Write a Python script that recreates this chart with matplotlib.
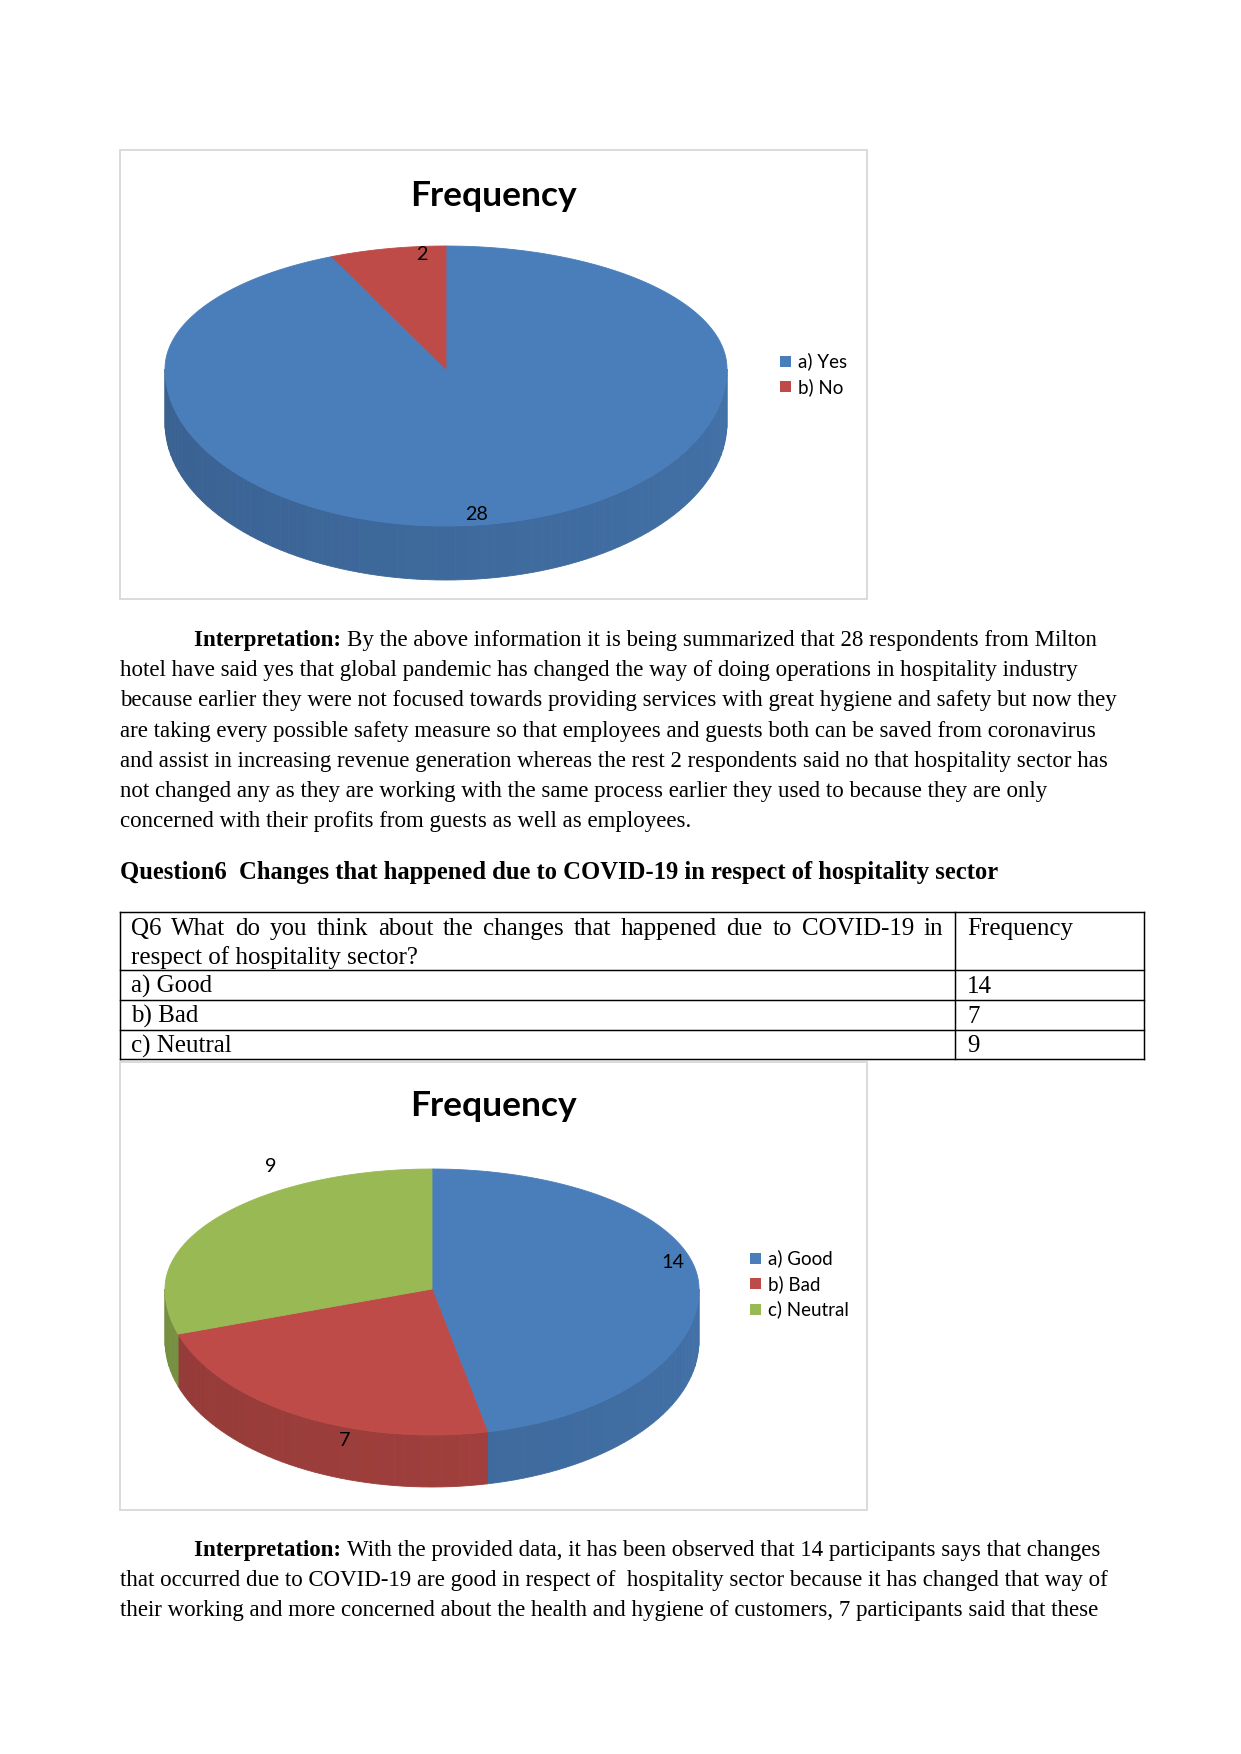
import numpy as np
import matplotlib
matplotlib.use("Agg")
import matplotlib.pyplot as plt
from matplotlib.patches import Polygon, Rectangle
from matplotlib.colors import to_rgb

# ---------------- data ----------------
q5_labels = ["a) Yes", "b) No"]
q5_values = [28, 2]
q6_labels = ["a) Good", "b) Bad", "c) Neutral"]
q6_values = [14, 7, 9]
chart_title = "Frequency"

para1 = [
    "By the above information it is being summarized that 28 respondents from Milton",
    "hotel have said yes that global pandemic has changed the way of doing operations in hospitality industry",
    "because earlier they were not focused towards providing services with great hygiene and safety but now they",
    "are taking every possible safety measure so that employees and guests both can be saved from coronavirus",
    "and assist in increasing revenue generation whereas the rest 2 respondents said no that hospitality sector has",
    "not changed any as they are working with the same process earlier they used to because they are only",
    "concerned with their profits from guests as well as employees.",
]
heading = "Question6  Changes that happened due to COVID-19 in respect of hospitality sector"
table_q = ["Q6 What do you think about the changes that happened due to COVID-19 in",
           "respect of hospitality sector?"]
table_col2 = "Frequency"
para2 = [
    "With the provided data, it has been observed that 14 participants says that changes",
    "that occurred due to COVID-19 are good in respect of  hospitality sector because it has changed that way of",
    "their working and more concerned about the health and hygiene of customers, 7 participants said that these",
]

colors = ["#4A7EBB", "#BE4B48", "#98B954"]

# ---------------- figure ----------------
W, H = 1241, 1754
DPI = 150
fig = plt.figure(figsize=(W / DPI, H / DPI), dpi=DPI)
fig.patch.set_facecolor("white")
ax = fig.add_axes([0, 0, 1, 1])
ax.set_xlim(0, W)
ax.set_ylim(H, 0)
ax.axis("off")
renderer = fig.canvas.get_renderer()

SERIF = "Liberation Serif"
SANS = ["Lato", "DejaVu Sans"]
PARA_FS = 11
TAB_FS = 12


def shade(c, f):
    r, g, b = to_rgb(c)
    return (r * f, g * f, b * f)


def ell(th_deg, cx, cy, rx, ryb, ryf):
    th = np.radians(th_deg)
    c = np.cos(th)
    ry = np.where(c > 0, ryb, ryf)
    return cx + rx * np.sin(th), cy - ry * c


def pie3d(values, cols, cx, cy, rx, ryb, ryf, depth):
    total = float(sum(values))
    bounds = np.concatenate([[0], np.cumsum(values)]) / total * 360.0
    # side walls (front half only)
    for i in range(len(values)):
        lo, hi = max(bounds[i], 90), min(bounds[i + 1], 270)
        if hi <= lo:
            continue
        edges = np.arange(lo, hi, 2.0).tolist() + [hi]
        for s0, s1 in zip(edges[:-1], edges[1:]):
            xs, ys = ell(np.linspace(s0, s1, 4), cx, cy, rx, ryb, ryf)
            pts = list(zip(xs, ys)) + list(zip(xs[::-1], ys[::-1] + depth))
            mid = 0.5 * (s0 + s1)
            f = 0.90 - 0.13 * (mid - 90) / 180.0
            c = shade(cols[i], f)
            ax.add_patch(Polygon(pts, closed=True, facecolor=c, edgecolor=c, lw=0.4))
    # top faces
    for i in range(len(values)):
        xs, ys = ell(np.linspace(bounds[i], bounds[i + 1], 240), cx, cy, rx, ryb, ryf)
        pts = [(cx, cy)] + list(zip(xs, ys))
        ax.add_patch(Polygon(pts, closed=True, facecolor=cols[i], edgecolor=cols[i], lw=0.4))


def chart(box, title_y, values, labels, pie_geom, label_pos, legend_xy):
    x0, y0, x1, y1 = box
    ax.add_patch(Rectangle((x0, y0), x1 - x0, y1 - y0, fill=False,
                           edgecolor="#D9D9D9", lw=0.9))
    ax.text((x0 + x1) / 2, title_y, chart_title, family=SANS, fontweight="bold",
            fontsize=17, ha="center", va="center", color="black")
    pie3d(values, colors, *pie_geom)
    for v, (lx, ly) in zip(values, label_pos):
        ax.text(lx, ly, str(v), family=SANS, fontsize=9.5, ha="center", va="center")
    lx, ly = legend_xy
    for i, lab in enumerate(labels):
        yy = ly + i * 25.8
        ax.add_patch(Rectangle((lx, yy - 5.5), 11, 11, facecolor=colors[i], edgecolor="none"))
        ax.text(lx + 18, yy, lab, family=SANS, fontsize=9, ha="left", va="center")


def text_width(s, **kw):
    t = ax.text(0, 0, s, **kw)
    w = t.get_window_extent(renderer).width
    t.remove()
    return w


def para(lines, x_left, x_indent, y0, dy, lead="Interpretation: "):
    for i, line in enumerate(lines):
        y = y0 + i * dy
        if i == 0:
            ax.text(x_indent, y, lead, family=SERIF, fontsize=PARA_FS, fontweight="bold", va="baseline")
            w = text_width(lead, family=SERIF, fontsize=PARA_FS, fontweight="bold")
            ax.text(x_indent + w, y, line, family=SERIF, fontsize=PARA_FS, va="baseline")
        else:
            ax.text(x_left, y, line, family=SERIF, fontsize=PARA_FS, va="baseline")


def justify(line, x0, x1, y):
    words = line.split()
    ws = [text_width(w, family=SERIF, fontsize=TAB_FS) for w in words]
    gap = (x1 - x0 - sum(ws)) / (len(words) - 1)
    x = x0
    for w, wd in zip(words, ws):
        ax.text(x, y, w, family=SERIF, fontsize=TAB_FS, va="baseline")
        x += wd + gap


# ---- chart 1 ----
chart((120, 150, 867, 599), 196, q5_values, q5_labels,
      (446, 369, 281, 123, 157, 54), [(477, 515), (422, 255)], (780, 361))

# ---- paragraph 1 ----
para(para1, 120, 194, 646, 30.2)

# ---- heading ----
ax.text(120, 879, heading, family=SERIF, fontsize=11.8, fontweight="bold", va="baseline")

# ---- table ----
tx0, tx1, tdiv = 120, 1144, 955
ty = [912, 970, 1000, 1030, 1059]
for yy in ty:
    ax.plot([tx0, tx1], [yy, yy], color="black", lw=0.7)
for xx in (tx0, tdiv, tx1):
    ax.plot([xx, xx], [ty[0], ty[-1]], color="black", lw=0.7)
justify(table_q[0], 131, 943, 935)
ax.text(131, 964, table_q[1], family=SERIF, fontsize=TAB_FS, va="baseline")
ax.text(967, 935, table_col2, family=SERIF, fontsize=TAB_FS, va="baseline")
for i, (lab, v) in enumerate(zip(q6_labels, q6_values)):
    ax.text(131, 993 + i * 29.6, lab, family=SERIF, fontsize=TAB_FS, va="baseline")
    ax.text(967, 993 + i * 29.6, str(v), family=SERIF, fontsize=TAB_FS, va="baseline")

# ---- chart 2 ----
chart((120, 1062, 867, 1510), 1106, q6_values, q6_labels,
      (432, 1289, 267, 120, 146, 52), [(673, 1262), (345, 1441), (271, 1167)], (750, 1258))

# ---- paragraph 2 ----
para(para2, 120, 194, 1556, 30.2)

fig.savefig("out.png", dpi=DPI, facecolor="white")
